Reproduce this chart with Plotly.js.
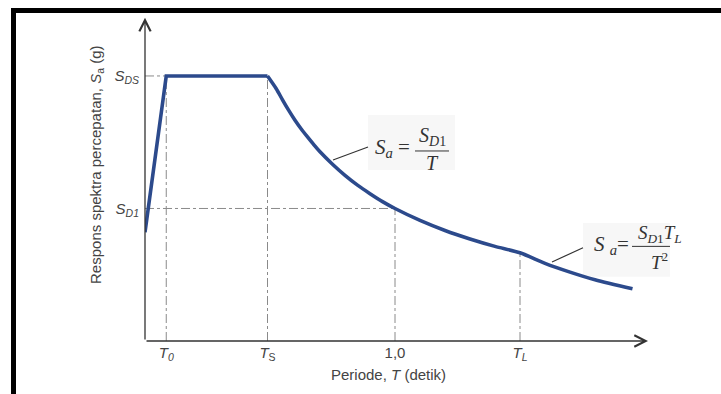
<!DOCTYPE html>
<html><head><meta charset="utf-8">
<script src="https://cdn.plot.ly/plotly-3.0.1.min.js"></script>
<style>
html,body{margin:0;padding:0;background:#fff;}
#wrap{position:relative;width:721px;height:394px;overflow:hidden;}
#chart{width:721px;height:394px;}
#frame{position:absolute;left:11px;top:8px;right:0;bottom:0;border-top:5px solid #000;border-left:5px solid #000;pointer-events:none;}
</style>
</head><body>
<div id="wrap"><div id="chart"></div><div id="frame"></div></div>
<script>
// Key spectrum values
const SDS = 1.0;     // S_DS level
const SD1 = 0.5;     // S_D1 level
const T0 = 0.085;
const TS = 0.49;
const T1 = 1.0;
const TL = 1.5;
const SaTL = 0.333;

// Response spectrum curve (period T, spectral acceleration Sa)
const periods = [0, T0, TS, 0.525, 0.55, 0.575, 0.6, 0.625, 0.65, 0.675, 0.7, 0.75, 0.8, 0.85, 0.9, 0.95, 1.0, 1.1, 1.2, 1.3, 1.4, 1.5, 1.6, 1.7, 1.8, 1.95];
const accel   = [0.41, 1.0, 1.0, 0.952, 0.91, 0.87, 0.833, 0.8, 0.77, 0.741, 0.714, 0.667, 0.625, 0.588, 0.556, 0.526, 0.5, 0.455, 0.417, 0.385, 0.357, 0.333, 0.293, 0.26, 0.231, 0.197];

// Tick labels
const xTickVals = [T0, TS, T1, TL];
const xTickText = ['<i>T</i><sub><i>0</i></sub>', '<i>T</i><sub>S</sub>', '1,0', '<i>T</i><sub><i>L</i></sub>'];
const yTickVals = [SD1, SDS];
const yTickText = ['<i>S</i><sub><i>D1</i></sub>', '<i>S</i><sub><i>DS</i></sub>'];

// Guide (dash-dot) lines built from the key values
const guideX = [0, T0, null, 0, T1, null, T0, T0, null, TS, TS, null, T1, T1, null, TL, TL];
const guideY = [SDS, SDS, null, SD1, SD1, null, 0, SDS, null, 0, SDS, null, 0, SD1, null, 0, SaTL];

const serif = 'Liberation Serif, Times New Roman, serif';
const sans = 'Liberation Sans, Arial, sans-serif';
const txt = '#444';
const curveColor = '#2c4a8c';

const traces = [
  {x: guideX, y: guideY, mode: 'lines', line: {color: '#8a8a8a', width: 1, dash: 'dashdot'}, hoverinfo: 'skip', showlegend: false},
  {x: periods.slice(0, 3), y: accel.slice(0, 3), mode: 'lines', line: {color: curveColor, width: 3.6}, cliponaxis: false, showlegend: false},
  {x: periods.slice(2), y: accel.slice(2), mode: 'lines', line: {color: curveColor, width: 3.6, shape: 'spline', smoothing: 0.8}, cliponaxis: false, showlegend: false}
];

const layout = {
  width: 721, height: 394,
  margin: {l: 145, r: 51, t: 15, b: 53},
  paper_bgcolor: '#fff', plot_bgcolor: '#fff',
  showlegend: false,
  xaxis: {range: [0, 2.1], showgrid: false, zeroline: false, showline: false, ticks: '',
          tickmode: 'array', tickvals: xTickVals, ticktext: xTickText,
          tickfont: {family: sans, size: 15, color: txt}, ticklabelstandoff: 1},
  yaxis: {range: [0, 1.23], showgrid: false, zeroline: false, showline: false, ticks: '',
          tickmode: 'array', tickvals: yTickVals, ticktext: yTickText,
          tickfont: {family: sans, size: 15, color: txt}, ticklabelstandoff: 5},
  shapes: [
    // formula backgrounds
    {type: 'rect', xref: 'x', yref: 'y', x0: 0.892, x1: 1.24, y0: 0.645, y1: 0.853, fillcolor: '#f7f7f7', line: {width: 0}, layer: 'below'},
    {type: 'rect', xref: 'x', yref: 'y', x0: 1.752, x1: 2.2, y0: 0.242, y1: 0.445, fillcolor: '#f7f7f7', line: {width: 0}, layer: 'below'},
    // leader lines
    {type: 'line', xref: 'x', yref: 'y', x0: 0.752, y0: 0.683, x1: 0.892, y1: 0.732, line: {color: '#333', width: 1.2}},
    {type: 'line', xref: 'x', yref: 'y', x0: 1.628, y0: 0.298, x1: 1.752, y1: 0.352, line: {color: '#333', width: 1.2}},
    // fraction bars
    {type: 'line', xref: 'x', yref: 'y', x0: 1.08, x1: 1.216, y0: 0.717, y1: 0.717, line: {color: '#333', width: 1}},
    {type: 'line', xref: 'x', yref: 'y', x0: 1.948, x1: 2.172, y0: 0.357, y1: 0.357, line: {color: '#333', width: 1}}
  ],
  annotations: [
    // axes with arrows
    {x: 0, y: 1.22, ax: 0, ay: 0, xref: 'x', yref: 'y', axref: 'x', ayref: 'y', text: '', showarrow: true,
     arrowhead: 5, arrowsize: 1.7, arrowwidth: 1.3, arrowcolor: '#333', standoff: 0},
    {x: 2.012, y: 0, ax: 0, ay: 0, xref: 'x', yref: 'y', axref: 'x', ayref: 'y', text: '', showarrow: true,
     arrowhead: 5, arrowsize: 1.7, arrowwidth: 1.3, arrowcolor: '#333', standoff: 0},
    // axis titles
    {xref: 'paper', yref: 'paper', x: 0.463, y: -0.104, xanchor: 'center', yanchor: 'middle', showarrow: false,
     text: 'Periode, <i>T</i> (detik)', font: {family: sans, size: 15, color: txt}},
    {xref: 'paper', yref: 'paper', x: -0.0914, y: 0.54, xanchor: 'center', yanchor: 'middle', showarrow: false, textangle: -90,
     text: 'Respons spektra percepatan, <i>S</i><sub>a</sub> (g)', font: {family: sans, size: 15, color: txt}},
    // formula 1: Sa = SD1 / T
    {x: 0.988, y: 0.728, xref: 'x', yref: 'y', showarrow: false, xanchor: 'center', yanchor: 'middle',
     text: '<i>S<sub>a</sub></i> =', font: {family: serif, size: 21, color: '#333'}},
    {x: 1.148, y: 0.77, xref: 'x', yref: 'y', showarrow: false, xanchor: 'center', yanchor: 'middle',
     text: '<i>S</i><sub><i>D</i>1</sub>', font: {family: serif, size: 20, color: '#333'}},
    {x: 1.148, y: 0.672, xref: 'x', yref: 'y', showarrow: false, xanchor: 'center', yanchor: 'middle',
     text: '<i>T</i>', font: {family: serif, size: 20, color: '#333'}},
    // formula 2: Sa = SD1 TL / T^2
    {x: 1.864, y: 0.362, xref: 'x', yref: 'y', showarrow: false, xanchor: 'center', yanchor: 'middle',
     text: '<i>S</i> <sub><i>a</i></sub>=', font: {family: serif, size: 21, color: '#333'}},
    {x: 2.06, y: 0.405, xref: 'x', yref: 'y', showarrow: false, xanchor: 'center', yanchor: 'middle',
     text: '<i>S</i><sub><i>D</i>1</sub><i>T</i><sub><i>L</i></sub>', font: {family: serif, size: 19, color: '#333'}},
    {x: 2.058, y: 0.302, xref: 'x', yref: 'y', showarrow: false, xanchor: 'center', yanchor: 'middle',
     text: '<i>T</i><sup>2</sup>', font: {family: serif, size: 19, color: '#333'}}
  ]
};

Plotly.newPlot('chart', traces, layout, {displayModeBar: false, staticPlot: true});
</script>
</body></html>
